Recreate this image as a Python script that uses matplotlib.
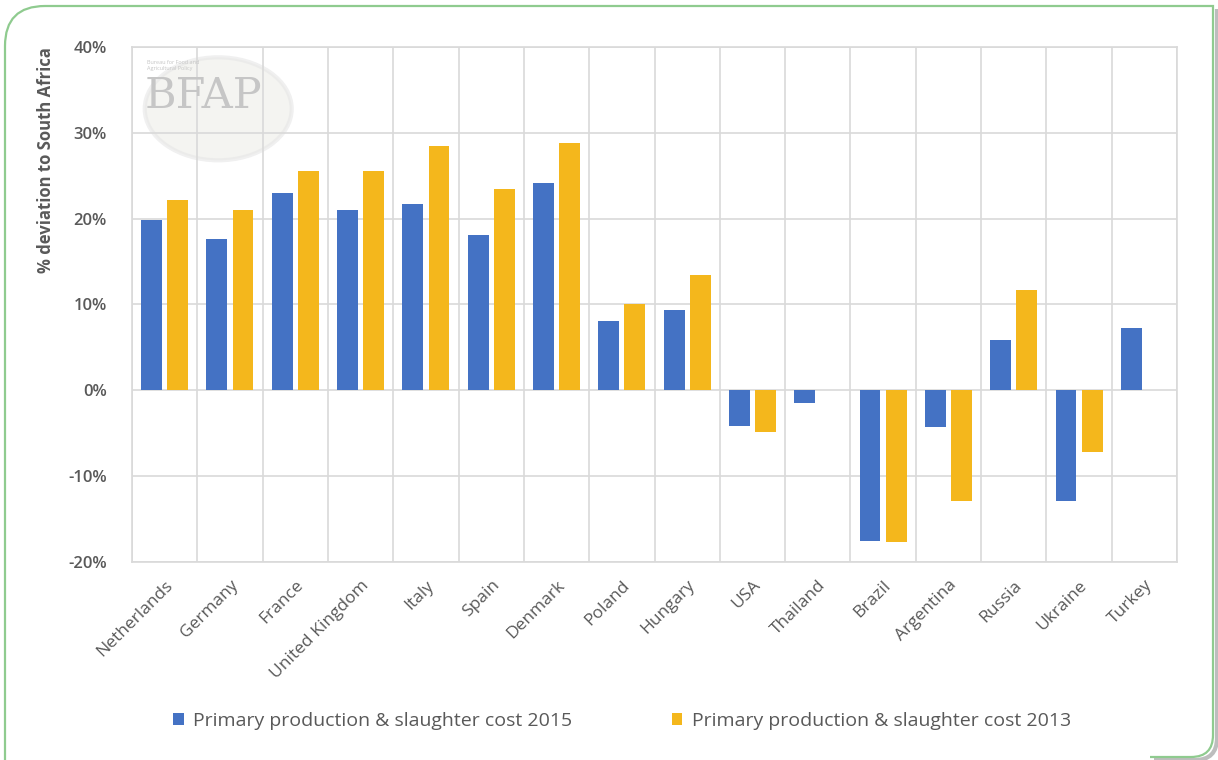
import numpy as np
import matplotlib
matplotlib.use("Agg")
import matplotlib.pyplot as plt
from matplotlib.path import Path
from matplotlib.patches import PathPatch, Ellipse
from matplotlib.ticker import FuncFormatter

# Data (% deviation to South Africa)
countries = ['Netherlands', 'Germany', 'France', 'United Kingdom', 'Italy', 'Spain',
             'Denmark', 'Poland', 'Hungary', 'USA', 'Thailand', 'Brazil', 'Argentina',
             'Russia', 'Ukraine', 'Turkey']
cost_2015 = [19.8, 17.6, 23.0, 21.0, 21.7, 18.1, 24.2, 8.1, 9.4, -4.2, -1.5, -17.6, -4.3, 5.9, -12.9, 7.3]
cost_2013 = [22.2, 21.0, 25.5, 25.6, 28.5, 23.5, 28.8, 10.1, 13.4, -4.9, np.nan, -17.7, -12.9, 11.7, -7.2, np.nan]
yticks = [-20, -10, 0, 10, 20, 30, 40]

label_2015 = 'Primary production & slaughter cost 2015'
label_2013 = 'Primary production & slaughter cost 2013'

blue = '#4472C4'
gold = '#F4B71C'
text_col = '#595959'
grid_col = '#D9D9D9'

plt.rcParams['font.family'] = ['Open Sans', 'DejaVu Sans']

W, H = 1218, 760
fig = plt.figure(figsize=(W / 100, H / 100), dpi=100)
fig.patch.set_facecolor('white')

def px(x, y):
    return (x / W, 1 - y / H)

# green frame with rounded top-left and bottom-right corners
r1, r2 = 40, 22
verts = [px(5, 762), px(5, 6 + r1), px(5, 6), px(5 + r1, 6), px(1213, 6),
         px(1213, 757 - r2), px(1213, 757), px(1213 - r2, 757), px(1150, 757)]
codes = [Path.MOVETO, Path.LINETO, Path.CURVE3, Path.CURVE3, Path.LINETO,
         Path.LINETO, Path.CURVE3, Path.CURVE3, Path.LINETO]
shadow = [(x + 4 / W, y - 3 / H) for x, y in verts]
fig.add_artist(PathPatch(Path(shadow[4:], [Path.MOVETO] + codes[5:]), transform=fig.transFigure,
                         fill=False, edgecolor='#BDBDBD', lw=3))
fig.add_artist(PathPatch(Path(verts, codes), transform=fig.transFigure,
                         fill=False, edgecolor='#8FCB8F', lw=1.6))

ax = fig.add_axes([132 / W, 1 - 562 / H, (1177 - 132) / W, (562 - 47) / H])

x = np.arange(len(countries))
w = 0.32
ax.bar(x - 0.2, cost_2015, w, color=blue, label=label_2015, zorder=3)
ax.bar(x + 0.2, cost_2013, w, color=gold, label=label_2013, zorder=3)

ax.set_xlim(-0.5, len(countries) - 0.5)
ax.set_ylim(-20, 40)
ax.set_yticks(yticks)
ax.yaxis.set_major_formatter(FuncFormatter(lambda v, p: f'{v:.0f}%'))
ax.set_xticks(x)
ax.set_xticklabels(countries, rotation=45, ha='right', rotation_mode='anchor')
ax.set_xticks(np.arange(-0.5, len(countries)), minor=True)

ax.grid(axis='y', which='major', color=grid_col, lw=1.2, zorder=0)
ax.grid(axis='x', which='minor', color=grid_col, lw=1.2, zorder=0)
ax.tick_params(which='both', length=0)
ax.tick_params(axis='y', labelsize=12, labelcolor=text_col, pad=18)
ax.tick_params(axis='x', labelsize=12.5, labelcolor=text_col, pad=11)
for lab in ax.get_yticklabels():
    lab.set_fontweight('semibold')
for s in ax.spines.values():
    s.set_color(grid_col)
    s.set_linewidth(1.2)

fig.text(46 / W, 1 - 47 / H, '% deviation to South Africa', rotation=90, fontsize=12,
         fontweight='bold', color=text_col, ha='center', va='top')

# faint BFAP watermark
ax.add_artist(Ellipse((0.82, 32.8), 2.25, 12, transform=ax.transData, facecolor='#EEEDE8',
                      edgecolor='#E6E6E6', lw=3, alpha=0.6, zorder=1))
ax.text(-0.3, 34.3, 'BFAP', fontsize=31, family='DejaVu Serif', color='#C6C6C6',
        ha='left', va='center', zorder=2)
ax.text(-0.27, 37.8, 'Bureau for Food and\nAgricultural Policy', fontsize=4, color='#C6C6C6',
        ha='left', va='center', zorder=2)

fig.legend(loc='center', bbox_to_anchor=(622 / W, 1 - 721 / H), ncol=2, frameon=False,
           handlelength=0.55, handleheight=0.55, handletextpad=0.5, columnspacing=5.1,
           fontsize=14, labelcolor=text_col)

fig.savefig('out.png', dpi=100)
